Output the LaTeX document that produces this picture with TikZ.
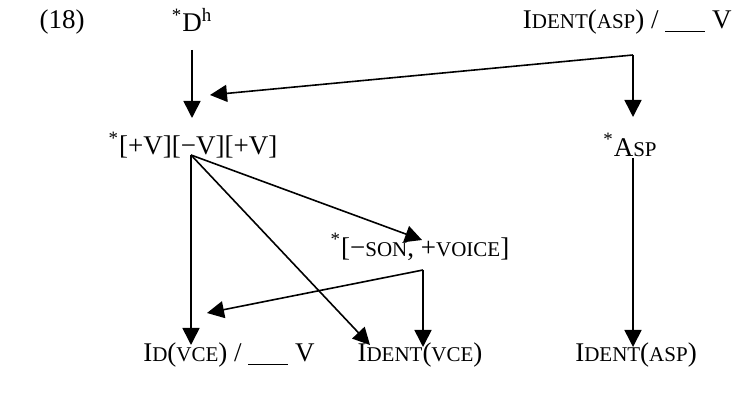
\documentclass[tikz,border=0pt]{standalone}
\usepackage{fontspec}
\setmainfont{Liberation Serif}
\usetikzlibrary{arrows.meta,positioning,calc}
\newcommand{\smc}[1]{{\fontsize{10.5}{12}\selectfont #1}}
\newcommand{\blank}{\underline{\hspace{20pt}}}
\begin{document}
\begin{tikzpicture}[
  x=0.5pt,y=-0.5pt,
  font=\fontsize{13.5}{15}\selectfont,
  lab/.style={inner sep=0pt},
  arr/.style={draw,line width=0.8pt,-{Triangle[length=8.5pt,width=8.5pt]}}
]
\useasboundingbox (0,0) rectangle (742,394);
% labels
\node[lab] (ex)       at (62,22)   {(18)};
\node[lab] (dh)       at (192,20)  {\textsuperscript{*}D\textsuperscript{h}};
\node[lab,anchor=east] (identv) at (732,22) {I\smc{DENT}(\smc{ASP}) / \blank\ V};
\node[lab] (vvv)      at (193,145) {\textsuperscript{*}[+V][−V][+V]};
\node[lab] (asp)      at (630,145) {\textsuperscript{*}A\smc{SP}};
\node[lab] (son)      at (420,247) {\textsuperscript{*}[−\smc{SON}, +\smc{VOICE}]};
\node[lab] (idv)      at (229,355) {I\smc{D}(\smc{VCE}) / \blank\ V};
\node[lab] (identvce) at (420,355) {I\smc{DENT}(\smc{VCE})};
\node[lab] (identasp) at (636,355) {I\smc{DENT}(\smc{ASP})};
% fork points
\coordinate (aspfork) at ($(asp)+(3,-90)$);
\coordinate (vvvfork) at ($(vvv)+(-2,10)$);
\coordinate (sonfork) at ($(son)+(3,23)$);
% arrows
\draw[arr] ($(dh)+(0,30)$) -- ($(dh)+(0,98)$);
\draw[arr] (aspfork) -- ($(vvv)+(17,-50)$);
\draw[arr] (aspfork) -- ($(asp)+(3,-28)$);
\draw[arr] (vvvfork) -- ($(idv)+(-38,-10)$);
\draw[arr] (vvvfork) -- ($(identvce)+(-50,-10)$);
\draw[arr] (vvvfork) -- ($(son)+(2,-7)$);
\draw[arr] (sonfork) -- ($(idv)+(-22,-42)$);
\draw[arr] (sonfork) -- ($(identvce)+(3,-8)$);
\draw[arr] ($(asp)+(3,13)$) -- ($(identasp)+(-3,-8)$);
\end{tikzpicture}
\end{document}
